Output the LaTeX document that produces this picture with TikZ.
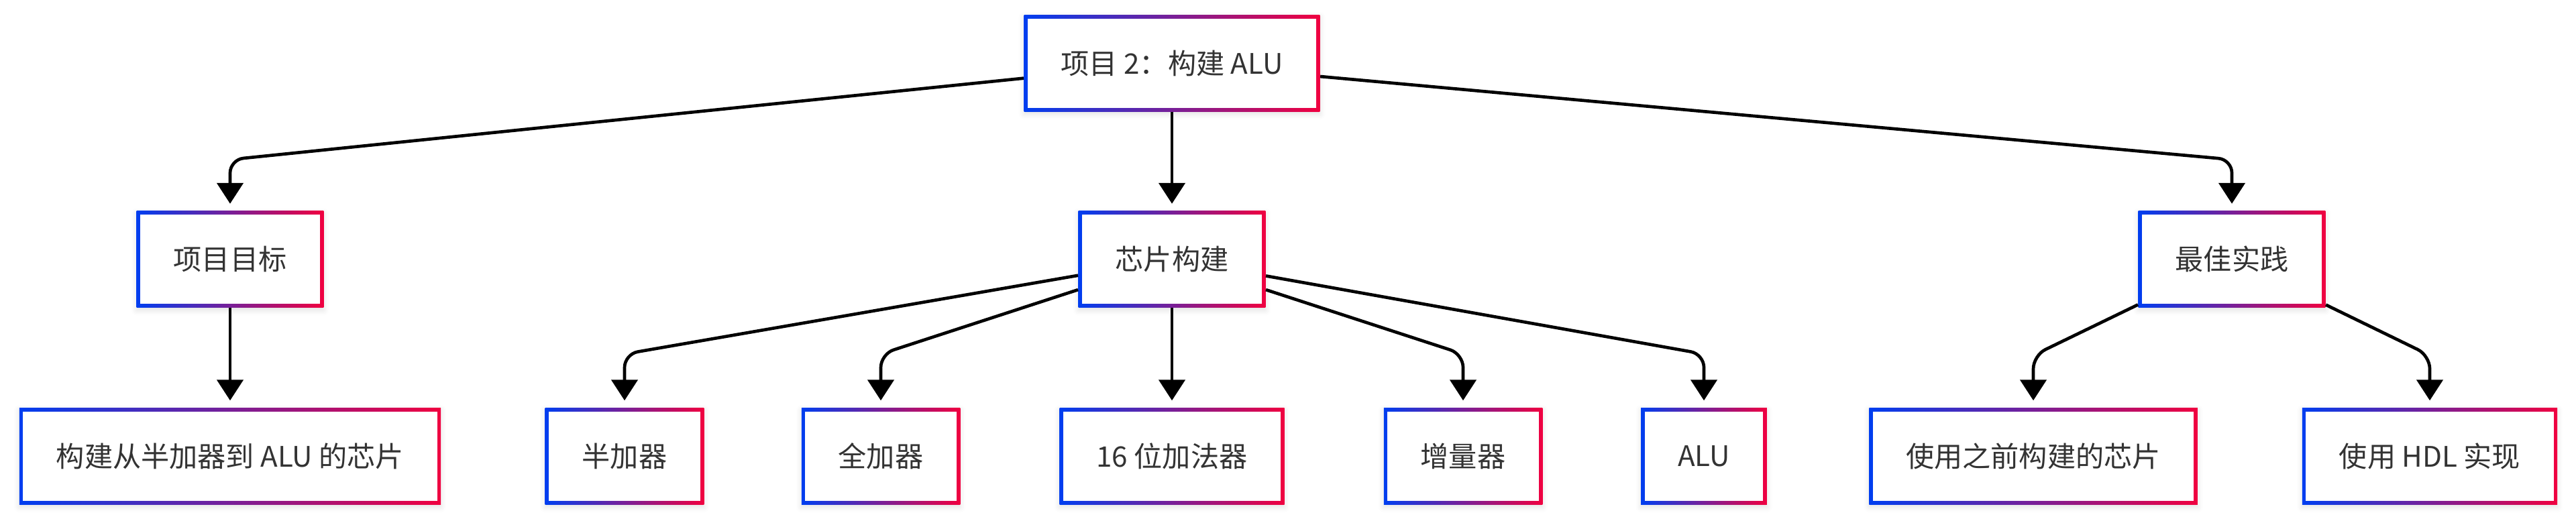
\documentclass[tikz,border=0pt]{standalone}
\usepackage{fontspec}
\setmainfont{Noto Sans CJK SC}
\usepackage{tikz}
\usetikzlibrary{arrows.meta}
\usetikzlibrary{shadows.blur}

\definecolor{bordblue}{RGB}{0,62,240}
\definecolor{bordred}{RGB}{240,0,64}
\definecolor{txtgray}{RGB}{51,51,51}

\begin{document}
\begin{tikzpicture}[
    box/.style={rectangle, minimum height=1.44cm, inner xsep=0.55cm,
        left color=bordblue, right color=bordred, text=txtgray,
        font=\fontsize{12pt}{14pt}\selectfont,
        blur shadow={shadow xshift=0cm, shadow yshift=-0.04cm, shadow blur radius=0.08cm, shadow opacity=12},
        path picture={\fill[white] ([shift={(0.055cm,0.055cm)}]path picture bounding box.south west)
            rectangle ([shift={(-0.055cm,-0.055cm)}]path picture bounding box.north east);}},
    link/.style={line width=0.047cm, rounded corners=0.2cm,
        -{Triangle[width=0.39cm,length=0.31cm]}, shorten >=0.1cm}
]
    \useasboundingbox (0,0) rectangle (38.40,-7.76);

    %root
    \node[box] (project) at (17.47,-0.94) {项目 2：构建 ALU};

    %second row
    \node[box] (goal) at (3.43,-3.865) {项目目标};
    \node[box] (chips) at (17.47,-3.865) {芯片构建};
    \node[box] (practice) at (33.27,-3.865) {最佳实践};

    %third row
    \node[box] (build) at (3.43,-6.80) {构建从半加器到 ALU 的芯片};
    \node[box] (half) at (9.31,-6.80) {半加器};
    \node[box] (full) at (13.13,-6.80) {全加器};
    \node[box] (adder) at (17.47,-6.80) {16 位加法器};
    \node[box] (inc) at (21.81,-6.80) {增量器};
    \node[box] (alu) at (25.40,-6.80) {ALU};
    \node[box] (reuse) at (30.31,-6.80) {使用之前构建的芯片};
    \node[box] (hdl) at (36.22,-6.80) {使用 HDL 实现};

    %links
    \draw[link] (project) -- (3.43,-2.38) -- (goal);
    \draw[link] (project) -- (chips);
    \draw[link] (project) -- (33.27,-2.38) -- (practice);

    \draw[link] (goal) -- (build);

    \draw[link] (chips) -- (9.31,-5.28) -- (half);
    \draw[link] (chips) -- (13.13,-5.28) -- (full);
    \draw[link] (chips) -- (adder);
    \draw[link] (chips) -- (21.81,-5.28) -- (inc);
    \draw[link] (chips) -- (25.40,-5.28) -- (alu);

    \draw[link] (practice) -- (30.31,-5.30) -- (reuse);
    \draw[link] (practice) -- (36.22,-5.30) -- (hdl);
\end{tikzpicture}
\end{document}
